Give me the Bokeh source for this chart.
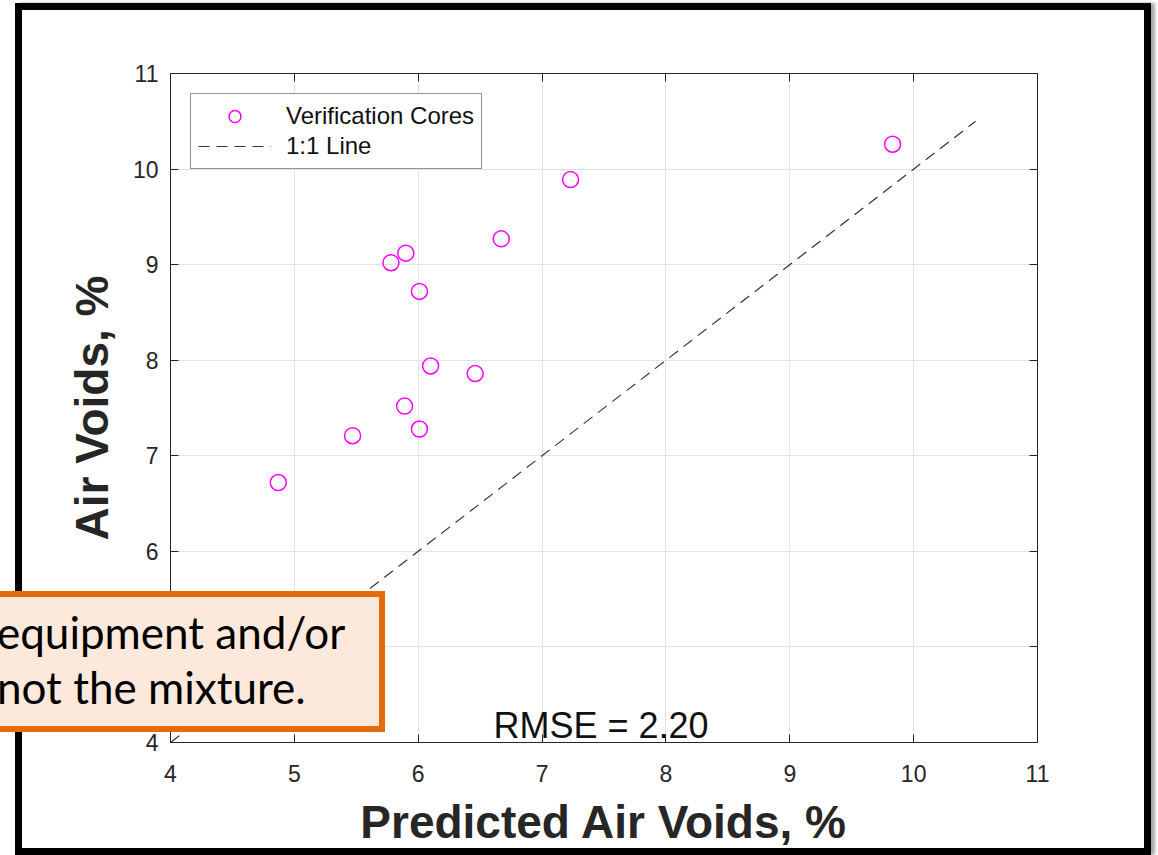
from bokeh.plotting import figure
from bokeh.layouts import column
from bokeh.models import (Range1d, LinearAxis, FixedTicker, Label, Div,
                          CustomJSTickFormatter, InlineStyleSheet)
from bokeh.embed import file_html
from bokeh.resources import INLINE

# ---- data ----
pred_air_voids = [4.87, 5.47, 5.78, 5.90, 5.89, 6.01, 6.01, 6.10, 6.46, 6.67, 7.23, 9.83]
meas_air_voids = [6.72, 7.21, 9.02, 9.12, 7.52, 8.72, 7.28, 7.94, 7.86, 9.27, 9.89, 10.26]
one_to_one_x = [4, 10.5]
one_to_one_y = [4, 10.5]
x_ticks = [4, 5, 6, 7, 8, 9, 10, 11]
y_ticks = [4, 5, 6, 7, 8, 9, 10, 11]
x_tick_labels = ["4", "5", "6", "7", "8", "9", "10", "11"]
y_tick_labels = ["4", "5", "6", "7", "8", "9", "10", "11"]
series_names = ["Verification Cores", "1:1 Line"]
x_title = "Predicted Air Voids, %"
y_title = "Air Voids, %"
rmse_text = "RMSE = 2.20"
callout_lines = ["equipment and/or", "not the mixture."]

# ---- layout (figure px -> data coords, for decorations only) ----
FW, FH = 1158, 855
F_L, F_R, F_T, F_B = 170, 1037, 73, 742      # plot frame in figure px
XMIN, XMAX, YMIN, YMAX = 4, 11, 4, 11
def fx(px):
    return XMIN + (px - F_L) * (XMAX - XMIN) / (F_R - F_L)
def fy(py):
    return YMIN + (F_B - py) * (YMAX - YMIN) / (F_B - F_T)

INK = "#262626"
FONT = "Liberation Sans"

# outer black slide border drawn with CSS (does not affect layout)
border_css = InlineStyleSheet(css="""
:host { position: relative; }
:host::after {
  content: "";
  position: absolute;
  left: 15px; top: 3px; width: 1136px; height: 852px;
  box-sizing: border-box;
  border: 7px solid #000;
  box-shadow: 4px 0px 3px rgba(0,0,0,0.35);
  pointer-events: none;
  z-index: 50;
}
""")

p = figure(width=FW, height=FH, output_backend="svg", toolbar_location=None,
           x_range=Range1d(XMIN, XMAX), y_range=Range1d(YMIN, YMAX),
           min_border_left=F_L, min_border_right=FW - F_R,
           min_border_top=F_T, min_border_bottom=FH - F_B,
           background_fill_color="white", border_fill_color="white",
           stylesheets=[border_css])
p.outline_line_color = INK

p.grid.grid_line_color = "#E3E3E3"
p.grid.grid_line_width = 1

for ax, ticks, labels in ((p.xaxis[0], x_ticks, x_tick_labels), (p.yaxis[0], y_ticks, y_tick_labels)):
    ax.ticker = FixedTicker(ticks=ticks)
    ax.major_label_overrides = {t: l for t, l in zip(ticks, labels)}
    ax.major_tick_in = 8
    ax.major_tick_out = 0
    ax.minor_tick_line_color = None
    ax.axis_line_color = INK
    ax.major_tick_line_color = INK
    ax.major_label_text_font = FONT
    ax.major_label_text_font_size = "23px"
    ax.major_label_text_color = INK
    ax.axis_label_text_font = FONT
    ax.axis_label_text_font_size = "46px"
    ax.axis_label_text_font_style = "bold"
    ax.axis_label_text_color = INK

p.xaxis[0].axis_label = x_title
p.yaxis[0].axis_label = y_title
p.xaxis[0].major_label_standoff = 22
p.xaxis[0].axis_label_standoff = 11
p.yaxis[0].major_label_standoff = 12
p.yaxis[0].axis_label_standoff = 12

# box axes (top / right) with inward ticks, no labels
top_ax = LinearAxis(ticker=FixedTicker(ticks=x_ticks),
                    formatter=CustomJSTickFormatter(code="return ''"))
right_ax = LinearAxis(ticker=FixedTicker(ticks=y_ticks),
                      formatter=CustomJSTickFormatter(code="return ''"))
for ax in (top_ax, right_ax):
    ax.major_tick_in = 8
    ax.major_tick_out = 0
    ax.minor_tick_line_color = None
    ax.axis_line_color = INK
    ax.major_tick_line_color = INK
    ax.major_label_standoff = 0
p.add_layout(top_ax, "above")
p.add_layout(right_ax, "right")

# data
p.line(one_to_one_x, one_to_one_y, line_color="#333333", line_width=1.2, line_dash="11 7",
       legend_label=series_names[1])
p.scatter(pred_air_voids, meas_air_voids, marker="circle", size=16, fill_color=None,
          line_color="#FF00FF", line_width=1.5, legend_label=series_names[0])

leg = p.legend[0]
leg.items = [leg.items[1], leg.items[0]]
leg.location = "top_left"
leg.margin = 20
leg.padding = 7
leg.spacing = 0
leg.label_standoff = 15
leg.glyph_width = 73
leg.glyph_height = 30
leg.label_height = 30
leg.label_text_font = FONT
leg.label_text_font_size = "24px"
leg.label_text_color = "#111111"
leg.border_line_color = INK
leg.border_line_width = 1
leg.background_fill_color = "white"
leg.background_fill_alpha = 1

# RMSE text
p.add_layout(Label(x=fx(493), y=fy(725), text=rmse_text, text_font=FONT,
                   text_font_size="36px", text_color="#111111",
                   text_baseline="alphabetic", text_align="left"))

# callout box: a floating HTML element (runs past the left page edge, as in the slide)
callout_css = InlineStyleSheet(css="""
:host {
  position: absolute !important;
  left: -60px !important; top: 591px !important;
  width: 445px !important; height: 141px !important;
  box-sizing: border-box !important;
  border: 6px solid #E46C0A !important;
  background: #FCE9DB !important;
  padding: 8px 0px 0px 51px !important;
  margin: 0px !important;
  font-family: Lato, sans-serif !important;
  font-size: 44px !important;
  line-height: 55px !important;
  color: #000000 !important;
  white-space: nowrap !important;
  z-index: 100 !important;
}
""")
callout = Div(text="<br>".join(callout_lines), stylesheets=[callout_css])

if "elements" in p.properties():
    p.elements = [callout]
    root = p
else:
    root = column(p, callout, width=FW, height=FH)

open("out.html", "w").write(file_html(root, INLINE, title="Air Voids"))
